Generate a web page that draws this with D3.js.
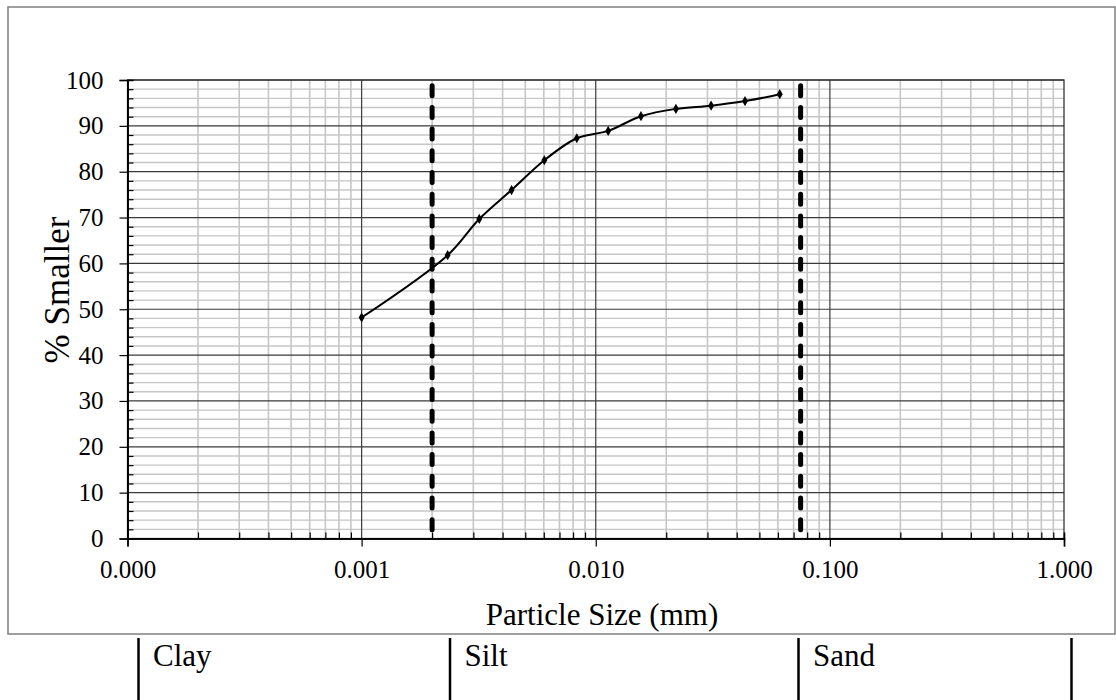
<!DOCTYPE html>
<html>
<head>
<meta charset="utf-8">
<script src="https://cdn.jsdelivr.net/npm/d3@7"></script>
<style>
  body { margin: 0; background: #fff; }
  svg { display: block; font-family: "Liberation Serif", "Times New Roman", serif; }
</style>
</head>
<body>
<svg width="1116" height="700"></svg>
<script>
// hydrometer / sieve readings
const particleSize = [0.001, 0.00233, 0.00318, 0.00437, 0.00603, 0.0083, 0.0113, 0.0156, 0.0220, 0.0311, 0.0434, 0.0611];
const percentSmaller = [48.2, 61.8, 69.7, 76.0, 82.5, 87.3, 88.9, 92.1, 93.7, 94.4, 95.4, 96.9];
const xTickValues = [0.0001, 0.001, 0.01, 0.1, 1];
const yTickValues = [0, 10, 20, 30, 40, 50, 60, 70, 80, 90, 100];
const boundaries = [0.002, 0.075]; // clay/silt, silt/sand
const soilClasses = ['Clay', 'Silt', 'Sand'];

const svg = d3.select('svg');
const plotLeft = 127.5, plotRight = 1064, plotTop = 80, plotBottom = 538.5;

const x = d3.scaleLog().domain([0.0001, 1]).range([plotLeft, plotRight]);
const y = d3.scaleLinear().domain([0, 100]).range([plotBottom, plotTop]);

// chart area border
svg.append('rect')
  .attr('x', 8).attr('y', 7)
  .attr('width', 1107).attr('height', 627)
  .attr('fill', '#fff')
  .attr('stroke', '#7f7f7f')
  .attr('stroke-width', 1.5);

const grid = svg.append('g');

// minor grid
const minorX = x.ticks().filter(v => xTickValues.indexOf(v) < 0 && v > 0.0001 && v < 1);
const minorY = y.ticks(50).filter(v => v % 10 !== 0);

grid.selectAll('.mx').data(minorX).join('line')
  .attr('x1', d => x(d)).attr('x2', d => x(d))
  .attr('y1', plotTop).attr('y2', plotBottom)
  .attr('stroke', '#c6c6c6').attr('stroke-width', 1.6);

grid.selectAll('.my').data(minorY).join('line')
  .attr('x1', plotLeft).attr('x2', plotRight)
  .attr('y1', d => y(d)).attr('y2', d => y(d))
  .attr('stroke', '#c6c6c6').attr('stroke-width', 1.4);

// major grid
grid.selectAll('.Mx').data(xTickValues.slice(1, -1)).join('line')
  .attr('x1', d => x(d)).attr('x2', d => x(d))
  .attr('y1', plotTop).attr('y2', plotBottom)
  .attr('stroke', '#3a3a3a').attr('stroke-width', 1.2);

grid.selectAll('.My').data(yTickValues.slice(1)).join('line')
  .attr('x1', plotLeft).attr('x2', plotRight)
  .attr('y1', d => y(d)).attr('y2', d => y(d))
  .attr('stroke', '#3a3a3a').attr('stroke-width', 1.2);

// plot border
svg.append('rect')
  .attr('x', plotLeft).attr('y', plotTop)
  .attr('width', plotRight - plotLeft).attr('height', plotBottom - plotTop)
  .attr('fill', 'none').attr('stroke', '#222').attr('stroke-width', 1.2);

// axes
const fmt = d3.format('.3f');
const xAxis = svg.append('g')
  .attr('transform', `translate(0,${plotBottom})`)
  .call(d3.axisBottom(x).tickValues(xTickValues).tickFormat(fmt).tickSize(8).tickPadding(14));
const xMinor = svg.append('g')
  .attr('transform', `translate(0,${plotBottom})`)
  .call(d3.axisBottom(x).tickValues(minorX).tickFormat('').tickSize(-6));

const yAxis = svg.append('g')
  .attr('transform', `translate(${plotLeft},0)`)
  .call(d3.axisLeft(y).tickValues(yTickValues).tickSize(8).tickPadding(16));
const yMinor = svg.append('g')
  .attr('transform', `translate(${plotLeft},0)`)
  .call(d3.axisLeft(y).tickValues(minorY).tickFormat('').tickSize(-6));

[xAxis, xMinor, yAxis, yMinor].forEach(g => {
  g.select('.domain').attr('stroke', '#000').attr('stroke-width', 1.6);
  g.selectAll('.tick line').attr('stroke', '#000').attr('stroke-width', 1.2);
  g.selectAll('text')
    .attr('font-family', '"Liberation Serif", "Times New Roman", serif')
    .attr('font-size', 25)
    .attr('fill', '#000');
});
xAxis.selectAll('text').attr('dy', '0.71em');

// axis titles
svg.append('text')
  .attr('x', 602).attr('y', 625)
  .attr('text-anchor', 'middle')
  .attr('font-size', 31)
  .text('Particle Size (mm)');

svg.append('text')
  .attr('transform', 'translate(69,290) rotate(-90)')
  .attr('text-anchor', 'middle')
  .attr('font-size', 35)
  .text('% Smaller');

// classification boundaries
svg.selectAll('.bound').data(boundaries).join('line')
  .attr('x1', d => x(d)).attr('x2', d => x(d))
  .attr('y1', y(100)).attr('y2', y(0))
  .attr('stroke', '#000')
  .attr('stroke-width', 5)
  .attr('stroke-linecap', 'round')
  .attr('stroke-dasharray', '10,11.7')
  .attr('stroke-dashoffset', 16);

// gradation curve
const pts = particleSize.map((d, i) => [d, percentSmaller[i]]);
const line = d3.line()
  .x(d => x(d[0]))
  .y(d => y(d[1]))
  .curve(d3.curveCatmullRom.alpha(0.5));

svg.append('path')
  .attr('d', line(pts))
  .attr('fill', 'none')
  .attr('stroke', '#000')
  .attr('stroke-width', 2);

svg.selectAll('.pt').data(pts).join('path')
  .attr('transform', d => `translate(${x(d[0])},${y(d[1])})`)
  .attr('d', d3.symbol(d3.symbolDiamond, 30))
  .attr('fill', '#000');

// classification table below chart
const colEdges = [138.5, 450, 798.5, 1071.5];
svg.selectAll('.col').data(colEdges).join('line')
  .attr('x1', d => d).attr('x2', d => d)
  .attr('y1', 638).attr('y2', 700)
  .attr('stroke', '#000').attr('stroke-width', 2.5);

svg.selectAll('.cls').data(soilClasses).join('text')
  .attr('x', (d, i) => colEdges[i] + 14.5)
  .attr('y', 666)
  .attr('font-size', 31)
  .text(d => d);
</script>
</body>
</html>
